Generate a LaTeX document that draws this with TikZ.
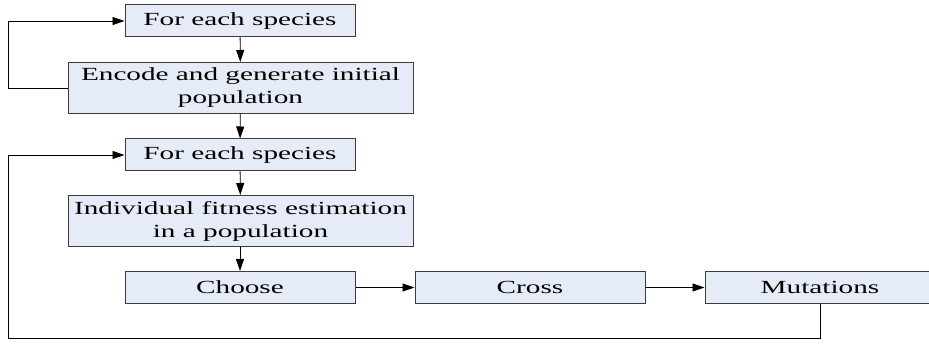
\documentclass[tikz,border=0pt]{standalone}
\usepackage{fontspec}
\setmainfont[FakeStretch=1.58]{Liberation Serif}
\usetikzlibrary{arrows.meta}
\definecolor{boxfill}{HTML}{E6ECF7}
\definecolor{boxline}{HTML}{3C3C3C}
\tikzset{
  stagebox/.style={draw=boxline, fill=boxfill, line width=1pt, minimum width=230pt,
    minimum height=32pt, inner sep=0pt, align=center, font=\fontsize{18.5}{23}\selectfont},
  widebox/.style={stagebox, minimum width=345pt, minimum height=51pt},
  flow/.style={-{Triangle[length=12pt,width=8pt]}, line width=0.8pt}
}
\begin{document}
\begin{tikzpicture}[x=1pt, y=-1pt]
    \useasboundingbox (0,0) rectangle (929,344);
    % boxes
    \node [stagebox] (sp1) at (240,21) {For each species};
    \node [widebox] (enc) at (240.5,88) {Encode and generate initial\\population};
    \node [stagebox] (sp2) at (240,155) {For each species};
    \node [widebox] (fit) at (240.5,221) {Individual fitness estimation\\in a population};
    \node [stagebox] (cho) at (240,287.5) {Choose};
    \node [stagebox] (cro) at (530,287.5) {Cross};
    \node [stagebox] (mut) at (820,287.5) {Mutations};
    \coordinate (rail) at (8,338);
    % main flow
    \draw [flow] (sp1) -- (enc);
    \draw [flow] (enc) -- (sp2);
    \draw [flow] (sp2) -- (fit);
    \draw [flow] (fit.south -| cho) -- (cho);
    \draw [flow] (cho) -- (cro);
    \draw [flow] (cro) -- (mut);
    % loops back
    \draw [flow] (enc.west) -- (enc.west -| rail) |- (sp1.west);
    \draw [flow] (mut.south) |- (rail) |- (sp2.west);
\end{tikzpicture}
\end{document}
